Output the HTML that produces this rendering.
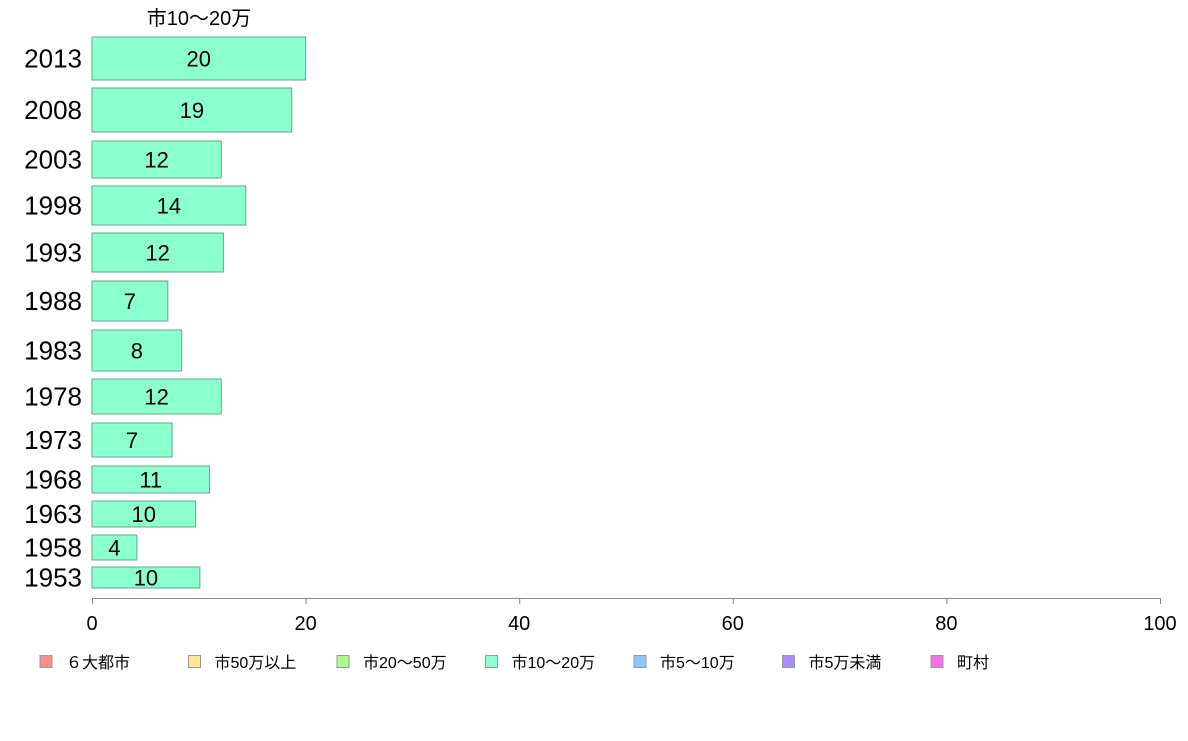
<!DOCTYPE html>
<html><head><meta charset="utf-8"><style>
html,body{margin:0;padding:0;background:#fff;}
body{width:1188px;height:736px;overflow:hidden;font-family:"Liberation Sans","Noto Sans CJK JP",sans-serif;}
</style></head><body>
<svg id="chart" width="1188" height="736" xmlns="http://www.w3.org/2000/svg" font-family="Liberation Sans, Noto Sans CJK JP, sans-serif">
<text x="199" y="25" font-size="20" text-anchor="middle" fill="#000">市10〜20万</text>
<g id="bars"></g>
<g id="axis"></g>
<g id="legend"></g>
</svg>
<script>
const years=["2013","2008","2003","1998","1993","1988","1983","1978","1973","1968","1963","1958","1953"];
const values=[20.0,18.7,12.1,14.4,12.3,7.1,8.4,12.1,7.5,11.0,9.7,4.2,10.1];
const labels=["20","19","12","14","12","7","8","12","7","11","10","4","10"];
const bandTop=[37,88,141,186,233,281,330,379,423,466,501,535,567];
const bandBottom=[80,132,178,225,272,321,371,414,457,493,527,560,588];
const ticks=[0,20,40,60,80,100];
const legendNames=["６大都市","市50万以上","市20〜50万","市10〜20万","市5〜10万","市5万未満","町村"];
const legendColors=["#ff8c8c","#ffe98c","#a8ff8c","#8cffd0","#8cc8ff","#a88cff","#ff70e8"];
const NS="http://www.w3.org/2000/svg";
const x=v=>92+v*10.68;
function mk(t,a,p){const e=document.createElementNS(NS,t);for(const k in a)e.setAttribute(k,a[k]);p.appendChild(e);return e;}
const gb=document.getElementById('bars');
years.forEach((yr,i)=>{
 const t=bandTop[i],b=bandBottom[i],m=(t+b)/2;
 const r=mk('rect',{x:x(0),y:t,width:x(values[i])-x(0),height:b-t,fill:"#8cffd0",stroke:"#5faa8a","stroke-width":1},gb);
 
 
 const l=mk('text',{x:82,y:m+9,"font-size":26,"text-anchor":"end",fill:"#000"},gb);
 l.textContent=yr;
 
 
 const v=mk('text',{x:(x(0)+x(values[i]))/2,y:m+8,"font-size":22,"text-anchor":"middle",fill:"#000"},gb);
 v.textContent=labels[i];
 
 
});
const ga=document.getElementById('axis');
const al=mk('line',{x1:x(0),x2:x(100),y1:598.5,y2:598.5,stroke:"#888","stroke-width":1},ga);


ticks.forEach(tv=>{
 const tl=mk('line',{x1:x(tv)+0.5,x2:x(tv)+0.5,y1:598,y2:604,stroke:"#888","stroke-width":1},ga);
 
 
 const tt=mk('text',{x:x(tv),y:630,"font-size":20,"text-anchor":"middle",fill:"#000"},ga);
 tt.textContent=tv;
 
 
});
const gl=document.getElementById('legend');
legendNames.forEach((n,i)=>{
 const lx=40+i*148.5;
 const s=mk('rect',{x:lx,y:655.5,width:12,height:12,fill:legendColors[i],stroke:"#999","stroke-width":1},gl);
 
 
 const t=mk('text',{x:lx+26,y:668,"font-size":16,fill:"#000"},gl);
 t.textContent=n;
 
 
});
</script>
</body></html>
